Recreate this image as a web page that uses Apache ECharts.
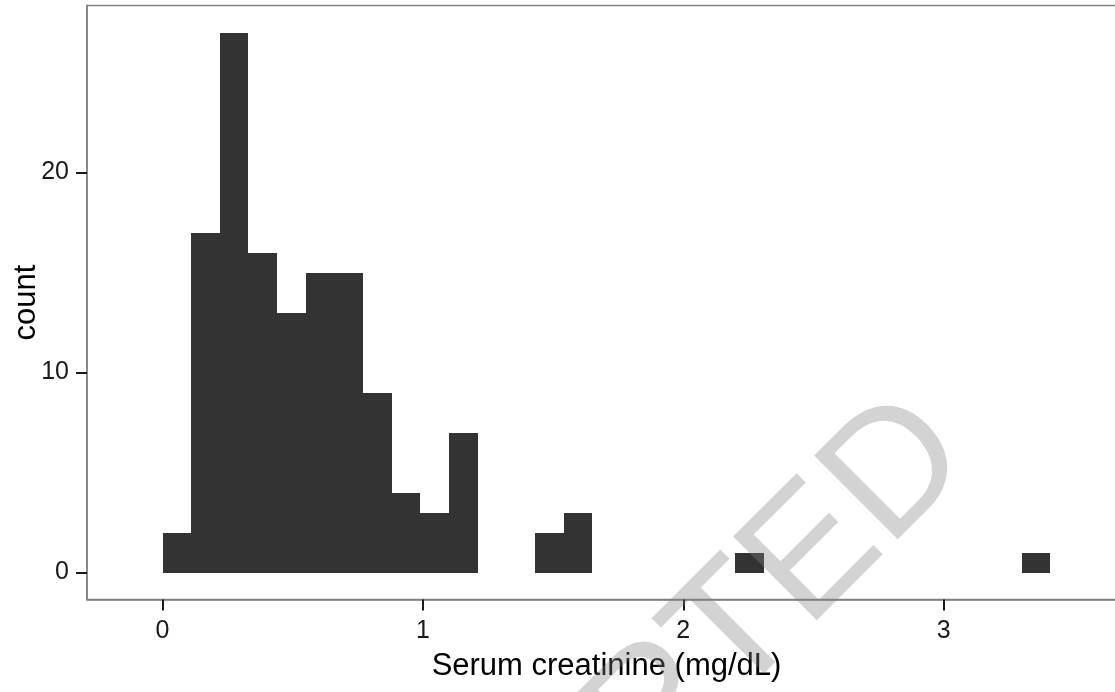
<!DOCTYPE html>
<html>
<head>
<meta charset="utf-8">
<style>
  html, body { margin: 0; padding: 0; background: #ffffff; }
  #chart { width: 1115px; height: 692px; }
</style>
<script src="https://cdn.jsdelivr.net/npm/echarts@6/dist/echarts.min.js"></script>
</head>
<body>
<div id="chart"></div>
<script>
// Histogram of serum creatinine, bins of equal width starting at 0
const binWidth = 0.11;
const counts = [
  2, 17, 27, 16, 13, 15, 15, 9, 4, 3, 7,
  0, 0, 2, 3, 0, 0, 0, 0, 0, 1,
  0, 0, 0, 0, 0, 0, 0, 0, 0, 1
];
const xTicks = [0, 1, 2, 3];
const yTicks = [0, 10, 20];

const FONT = "'Liberation Sans', Arial, Helvetica, sans-serif";

// [left edge, right edge, count] for each non-empty bin
const bins = counts
  .map((c, i) => [i * binWidth, (i + 1) * binWidth, c])
  .filter(b => b[2] > 0);

const chart = echarts.init(document.getElementById('chart'), null, { renderer: 'canvas' });

chart.setOption({
  animation: false,
  backgroundColor: '#ffffff',
  grid: {
    left: 87, top: 5.5, right: -11, bottom: 92.5,
    outerBoundsMode: 'none',
    containLabel: false,
    show: true, borderColor: '#808080', borderWidth: 1.5,
    backgroundColor: 'transparent'
  },
  xAxis: {
    type: 'value',
    min: -0.29, max: 3.70,
    splitLine: { show: false },
    axisLine: { show: true, onZero: false, lineStyle: { color: '#808080', width: 1.5 } },
    axisTick: { show: true, customValues: xTicks, length: 11, lineStyle: { color: '#1a1a1a', width: 2 } },
    axisLabel: { customValues: xTicks, fontSize: 25, color: '#1a1a1a', fontFamily: FONT, margin: 19 },
    name: 'Serum creatinine (mg/dL)',
    nameLocation: 'middle',
    nameGap: 51,
    nameMoveOverlap: false,
    nameTextStyle: { fontSize: 31, color: '#000000', fontFamily: FONT }
  },
  yAxis: {
    type: 'value',
    min: -1.35, max: 28.35,
    splitLine: { show: false },
    axisLine: { show: true, onZero: false, lineStyle: { color: '#808080', width: 1.5 } },
    axisTick: { show: true, customValues: yTicks, length: 11, lineStyle: { color: '#1a1a1a', width: 2 } },
    axisLabel: { customValues: yTicks, fontSize: 25, color: '#1a1a1a', fontFamily: FONT, margin: 18 },
    name: 'count',
    nameLocation: 'middle',
    nameGap: 45,
    nameRotate: 90,
    nameMoveOverlap: false,
    nameTextStyle: { fontSize: 31, color: '#000000', fontFamily: FONT }
  },
  series: [{
    type: 'custom',
    data: bins,
    encode: { x: [0, 1], y: 2 },
    renderItem: function (params, api) {
      const p0 = api.coord([api.value(0), api.value(2)]);
      const p1 = api.coord([api.value(1), 0]);
      // snap to whole pixels so neighbouring bars join without seams
      const x0 = Math.round(p0[0]);
      const x1 = Math.round(p1[0]);
      const y0 = Math.round(p0[1]);
      const y1 = Math.round(p1[1]);
      return {
        type: 'rect',
        shape: { x: x0, y: y0, width: x1 - x0, height: y1 - y0 },
        style: { fill: '#333333' }
      };
    }
  }],
  graphic: [{
    type: 'text',
    z: 100,
    x: 611, y: 759,
    rotation: Math.PI / 4,
    style: {
      text: 'ACCEPTED',
      font: '172px ' + FONT,
      fill: 'rgba(128,128,128,0.35)',
      align: 'center',
      verticalAlign: 'middle'
    }
  }]
});
</script>
</body>
</html>
